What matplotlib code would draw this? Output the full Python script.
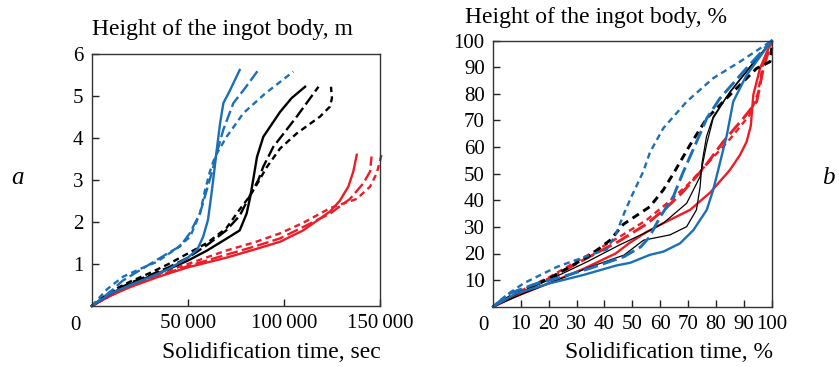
import matplotlib
matplotlib.use("Agg")
import matplotlib.pyplot as plt
import numpy as np

plt.rcParams['font.family'] = ['Liberation Serif', 'DejaVu Serif']

BLUE = '#1b6fb6'
RED = '#ee1c25'
BLACK = '#000000'

# ---------------- Panel a: absolute values ----------------
a_blue_solid_x = [0, 10000, 20000, 30000, 40000, 50000, 55000, 58000, 60500, 62400, 64000, 65000, 66800, 68500, 72000, 77000]
a_blue_solid_y = [0, 0.30, 0.50, 0.68, 0.88, 1.15, 1.35, 1.65, 2.05, 2.70, 3.30, 3.70, 4.35, 4.83, 5.14, 5.62]
a_blue_long_x = [0, 10000, 16000, 25000, 34000, 42000, 46000, 51000, 56300, 62400, 65000, 68500, 73700, 80000, 86700]
a_blue_long_y = [0, 0.35, 0.60, 0.85, 1.10, 1.32, 1.42, 1.73, 2.20, 3.16, 3.63, 4.20, 4.83, 5.20, 5.62]
a_blue_short_x = [0, 8000, 16400, 25000, 33800, 44200, 51200, 56300, 59000, 61500, 64200, 70200, 78900, 90000, 104900]
a_blue_short_y = [0, 0.40, 0.70, 0.88, 1.05, 1.37, 1.65, 2.20, 2.76, 3.20, 3.56, 4.03, 4.59, 5.05, 5.58]

a_black_solid_x = [0, 10000, 20000, 30000, 40000, 50000, 60000, 70000, 77000, 80600, 82500, 84000, 86000, 89300, 98000, 104000, 111000]
a_black_solid_y = [0, 0.30, 0.52, 0.70, 0.88, 1.08, 1.32, 1.60, 1.80, 2.20, 2.60, 3.00, 3.55, 4.03, 4.62, 4.95, 5.22]
a_black_long_x = [0, 10000, 20000, 30000, 40000, 50000, 60000, 70000, 77000, 82000, 86700, 89300, 94500, 106700, 118000]
a_black_long_y = [0, 0.32, 0.55, 0.73, 0.92, 1.15, 1.45, 1.80, 2.15, 2.60, 3.00, 3.32, 3.79, 4.51, 5.22]
a_black_short_x = [0, 10000, 20000, 30000, 40000, 50000, 60000, 70000, 77000, 82000, 86000, 91000, 98000, 106700, 118800, 124000, 125000, 124500]
a_black_short_y = [0, 0.35, 0.58, 0.78, 1.00, 1.25, 1.50, 1.85, 2.30, 2.60, 2.90, 3.30, 3.75, 4.11, 4.51, 4.75, 4.95, 5.22]

a_red_solid_x = [0, 10000, 20000, 35000, 50000, 70000, 85000, 98000, 110000, 124000, 129000, 133500, 136100, 137900]
a_red_solid_y = [0, 0.25, 0.45, 0.70, 0.92, 1.15, 1.35, 1.53, 1.80, 2.25, 2.50, 2.84, 3.20, 3.60]
a_red_long_x = [0, 10000, 20000, 35000, 50000, 70000, 85000, 98000, 110000, 124000, 134400, 141300, 144800, 145600]
a_red_long_y = [0, 0.25, 0.47, 0.72, 0.95, 1.22, 1.42, 1.61, 1.88, 2.20, 2.55, 2.92, 3.20, 3.56]
a_red_short_x = [0, 10000, 20000, 35000, 50000, 70000, 85000, 98000, 110000, 124000, 137900, 144800, 148300, 150800]
a_red_short_y = [0, 0.27, 0.50, 0.77, 1.00, 1.32, 1.52, 1.73, 1.98, 2.33, 2.55, 2.84, 3.16, 3.60]

a_xticks = [50000, 100000, 150000]
a_xticklabels = ['50\u2009000', '100\u2009000', '150\u2009000']
a_yticks = [1, 2, 3, 4, 5, 6]

# ---------------- Panel b: relative values ----------------
b_blue_solid_x = [0, 8.4, 20.4, 32.3, 44.3, 49.2, 56.3, 61.1, 67.1, 71.9, 76.7, 79.0, 80.8, 83.9, 86.2, 91.0, 100]
b_blue_solid_y = [0, 5.0, 8.8, 11.9, 15.5, 16.5, 19.5, 20.7, 23.8, 28.8, 36.4, 43.9, 51.4, 64.5, 77.1, 87.1, 100]
b_blue_long_x = [0, 6, 15, 25, 35, 47, 53, 56, 60, 64.7, 68, 72, 76.7, 81.4, 89.8, 100]
b_blue_long_y = [0, 5.0, 8.5, 11.3, 14.5, 18.8, 22.5, 26.0, 33.8, 41.4, 50.0, 59.5, 70.8, 78.3, 88.3, 100]
b_blue_short_x = [0, 5, 11, 23, 35, 40.8, 44.0, 47.0, 49.5, 54.0, 56.3, 61.1, 69.5, 79.0, 88.6, 100]
b_blue_short_y = [0, 4.5, 8.8, 15.0, 19.5, 21.5, 27.0, 35.0, 41.0, 51.0, 58.0, 67.1, 77.1, 85.9, 92.1, 100]

b_black_1_x = [0, 11, 23, 35, 47, 54, 63.5, 69.5, 73.0, 74.3, 75.0, 76.6, 79.0, 83.8, 88.6, 100]
b_black_1_y = [0, 5.0, 10.0, 15.0, 19.4, 25.0, 27.0, 30.1, 36.4, 45.0, 54.0, 63.9, 71.4, 78.9, 85.2, 100]
b_black_2_x = [0, 10, 22, 34, 45, 55, 61.1, 69.5, 74.3, 76.7, 79.0, 85.0, 92.0, 100]
b_black_2_y = [0, 5.5, 11.0, 17.0, 23.0, 28.0, 31.4, 38.9, 48.9, 61.3, 70.8, 80.8, 90.0, 100]
b_black_short_x = [0, 8, 20, 35, 42, 46.8, 56.3, 61.1, 64.7, 70.7, 76.7, 85.0, 94.6, 99.4, 100, 100]
b_black_short_y = [0, 5.0, 10.5, 19.4, 25.0, 31.0, 37.6, 43.9, 50.0, 60.8, 70.8, 79.6, 89.6, 92.1, 97, 100]

b_red_solid_x = [0, 8, 20, 32, 44, 49, 55, 61.1, 70.7, 78, 85, 88.6, 91.0, 92.5, 93.4, 95.8, 100]
b_red_solid_y = [0, 3.8, 8.8, 14.0, 20.0, 24.0, 28.0, 31.4, 36.4, 43.0, 51.4, 57.0, 62.0, 68.0, 79.6, 89.6, 100]
b_red_long_x = [0, 10, 20, 35, 45, 55, 62, 68, 75.5, 82.6, 89.8, 94.6, 97.0, 100]
b_red_long_y = [0, 5.5, 10.5, 19.0, 24.5, 31.0, 37.0, 43.0, 52.0, 62.0, 70.8, 77.1, 89.6, 100]
b_red_short_x = [0, 10, 20, 35, 45, 55, 62, 70, 78, 85, 92, 95, 97, 100]
b_red_short_y = [0, 6.0, 11.0, 20.0, 26.0, 32.5, 38.5, 46.0, 55.0, 63.0, 72.0, 80.0, 92.0, 100]

b_ticks = [10, 20, 30, 40, 50, 60, 70, 80, 90, 100]

LONG = (0, (5.0, 1.8))
SHORT = (0, (2.6, 1.8))
LW = 1.7

fig = plt.figure(figsize=(8.39, 3.67), dpi=100)
W, H = 839.0, 367.0

def ax_rect(x0, x1, ytop, ybot):
    return [x0 / W, 1 - ybot / H, (x1 - x0) / W, (ybot - ytop) / H]

axa = fig.add_axes(ax_rect(91.7, 380.0, 54.0, 306.0))
axb = fig.add_axes(ax_rect(493.0, 771.7, 40.7, 306.7))

TICKFS = 15

def style(ax):
    for s in ax.spines.values():
        s.set_color('#333333')
        s.set_linewidth(1.0)
    ax.tick_params(direction='in', length=5, width=1.0, color='#222222',
                   labelsize=TICKFS, top=False, right=False, pad=6)

# panel a lines
for xs, ys, c, ls in [
    (a_red_solid_x, a_red_solid_y, RED, '-'),
    (a_red_long_x, a_red_long_y, RED, LONG),
    (a_red_short_x, a_red_short_y, RED, SHORT),
    (a_black_solid_x, a_black_solid_y, BLACK, '-'),
    (a_black_long_x, a_black_long_y, BLACK, LONG),
    (a_black_short_x, a_black_short_y, BLACK, SHORT),
    (a_blue_solid_x, a_blue_solid_y, BLUE, '-'),
    (a_blue_long_x, a_blue_long_y, BLUE, LONG),
    (a_blue_short_x, a_blue_short_y, BLUE, SHORT),
]:
    axa.plot(xs, ys, color=c, linestyle=ls, lw=LW, clip_on=False)

axa.set_xlim(0, 150000)
axa.set_ylim(0, 6)
axa.set_xticks(a_xticks)
axa.set_xticklabels(a_xticklabels)
axa.set_yticks(a_yticks)
axa.set_yticklabels([str(v) for v in a_yticks])
style(axa)

# panel b lines
for xs, ys, c, ls, lw in [
    (b_red_solid_x, b_red_solid_y, RED, '-', LW),
    (b_red_long_x, b_red_long_y, RED, LONG, LW + 0.4),
    (b_red_short_x, b_red_short_y, RED, SHORT, LW),
    (b_black_1_x, b_black_1_y, BLACK, '-', 0.9),
    (b_black_2_x, b_black_2_y, BLACK, '-', 0.9),
    (b_black_short_x, b_black_short_y, BLACK, SHORT, LW + 0.4),
    (b_blue_solid_x, b_blue_solid_y, BLUE, '-', LW),
    (b_blue_long_x, b_blue_long_y, BLUE, LONG, LW + 0.4),
    (b_blue_short_x, b_blue_short_y, BLUE, SHORT, LW),
]:
    axb.plot(xs, ys, color=c, linestyle=ls, lw=lw, clip_on=False)

axb.set_xlim(0, 100)
axb.set_ylim(0, 100)
axb.set_xticks(b_ticks)
axb.set_xticklabels([str(v) for v in b_ticks])
axb.set_yticks(b_ticks)
axb.set_yticklabels([str(v) for v in b_ticks])
style(axb)

FS = 17
def ftext(x, y, s, **kw):
    fig.text(x / W, 1 - y / H, s, fontsize=kw.pop('fontsize', FS), **kw)

ftext(92, 30, 'Height of the ingot body, m', ha='left', va='center')
ftext(465, 18, 'Height of the ingot body, %', ha='left', va='center')
ftext(271, 352, 'Solidification time, sec', ha='center', va='center')
ftext(669, 352, 'Solidification time, %', ha='center', va='center')
ftext(75, 326, '0', ha='center', va='center', fontsize=TICKFS)
ftext(483, 326, '0', ha='center', va='center', fontsize=TICKFS)
ftext(18, 178, 'a', ha='center', va='center', style='italic', fontsize=18)
ftext(828, 178, 'b', ha='center', va='center', style='italic', fontsize=18)

fig.savefig('out.png', dpi=100)
